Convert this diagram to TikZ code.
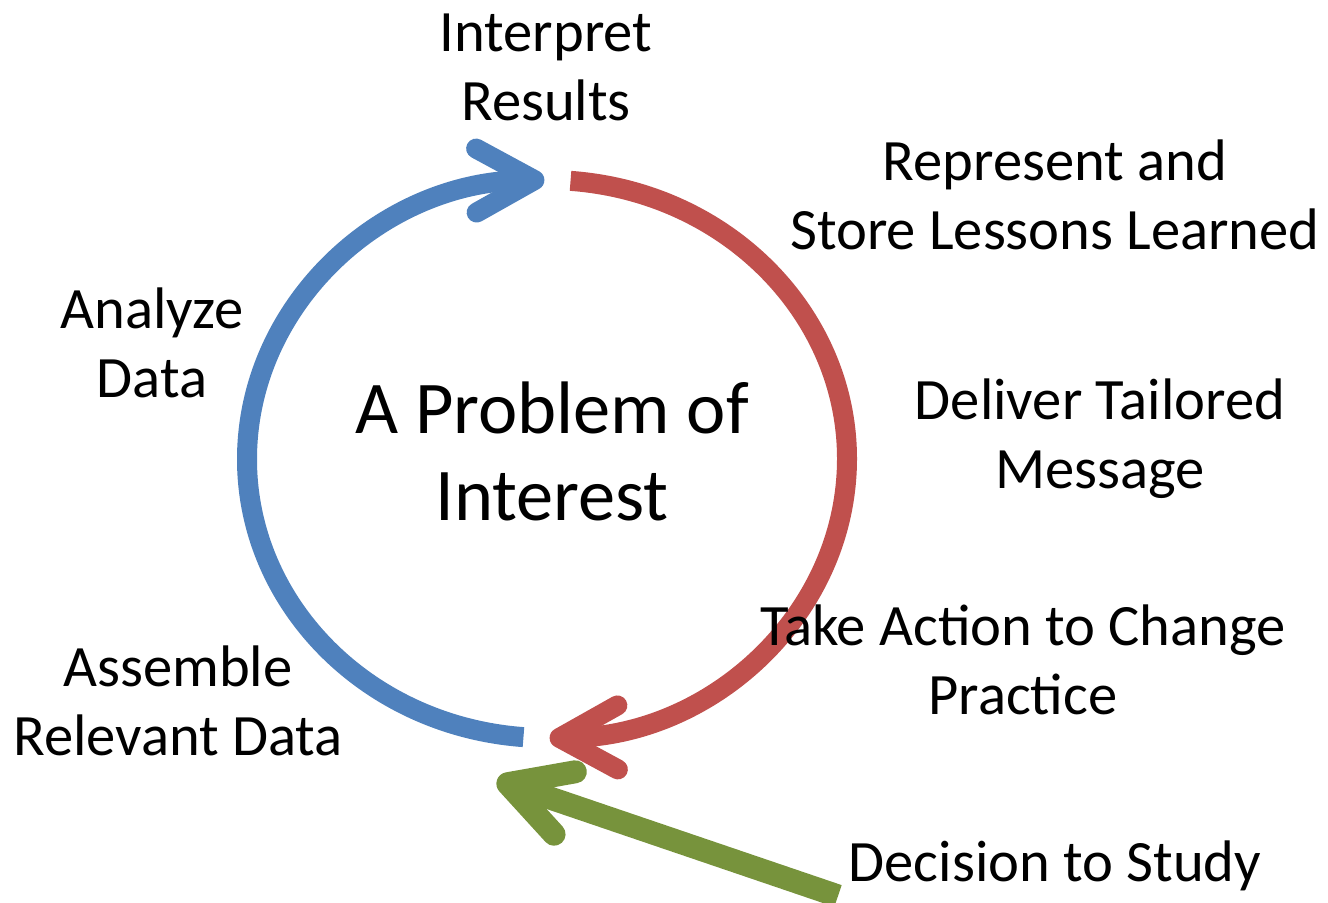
\documentclass[tikz,border=0pt]{standalone}
\usepackage{fontspec}
\setmainfont{Carlito}
\usepackage{tikz}
\usetikzlibrary{arrows.meta,calc}
\definecolor{cycblue}{RGB}{79,129,189}
\definecolor{cycred}{RGB}{192,80,77}
\definecolor{cycgreen}{RGB}{119,147,60}
\tikzset{
	lbl/.style={align=center, inner sep=0pt, font=\fontsize{29.3}{34.5}\selectfont},
	biglbl/.style={align=center, inner sep=0pt, font=\fontsize{37.2}{43.5}\selectfont},
	cyc/.style={line width=10pt, -{Straight Barb[length=29pt,width=32pt,round]}},
}
\begin{document}
\begin{tikzpicture}[x=0.5pt,y=0.5pt]
		\useasboundingbox (0,0) rectangle (1328,903);
		\coordinate (ctr) at (547,444);
		
		% the cycle
		\draw [cyc, cycblue] ($(ctr)+(265.5:300 and 279)$) arc [start angle=265.5, end angle=90.5, x radius=300, y radius=279];
		\draw [cyc, cycred] ($(ctr)+(85.5:300 and 279)$) arc [start angle=85.5, end angle=-89.5, x radius=300, y radius=279];
		
		% way in
		\coordinate (dstart) at (838,7);
		\coordinate (dtip) at (497,123);
		\draw [cycgreen, line width=11.5pt, -{Straight Barb[length=30pt,width=33pt,round]}] (dstart) -- (dtip);
		
		\node [biglbl] (problem) at (552,452) {A Problem of\\Interest};
		
		\node [lbl] (interpret) at (546,836) {Interpret\\Results};
		\node [lbl] (represent) at (1055,708) {Represent and\\Store Lessons Learned};
		\node [lbl] (deliver) at (1100,464) {Deliver Tailored\\Message};
		\node [lbl] (action) at (1023,243) {Take Action to Change\\Practice};
		\node [lbl] (analyze) at (152,560) {Analyze\\Data};
		\node [lbl] (assemble) at (178,202) {Assemble\\Relevant Data};
		\node [lbl] (decision) at (1055,37) {Decision to Study};
		
\end{tikzpicture}
\end{document}
